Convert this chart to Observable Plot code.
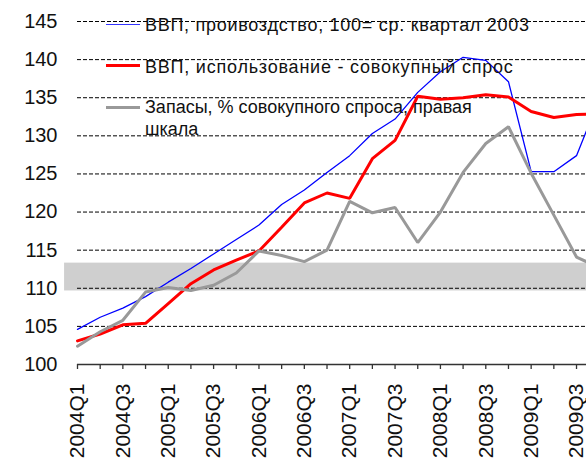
<!DOCTYPE html>
<html>
<head>
<meta charset="utf-8">
<script src="https://cdn.jsdelivr.net/npm/d3@7"></script>
<script src="https://cdn.jsdelivr.net/npm/@observablehq/plot@0.6"></script>
<style>
  html, body { margin: 0; padding: 0; overflow: hidden; background: #fff; }
  #wrap { position: relative; width: 586px; height: 458px; font-family: "Liberation Sans", Arial, sans-serif; color: #111; }
  .sw { position: absolute; left: 106px; width: 34px; }
  .lt { position: absolute; left: 145px; font-size: 18px; line-height: 22px; white-space: nowrap; }
</style>
</head>
<body>
<div id="wrap"></div>
<script>
const quarters = ["2004Q1","2004Q2","2004Q3","2004Q4","2005Q1","2005Q2","2005Q3","2005Q4",
  "2006Q1","2006Q2","2006Q3","2006Q4","2007Q1","2007Q2","2007Q3","2007Q4",
  "2008Q1","2008Q2","2008Q3","2008Q4","2009Q1","2009Q2","2009Q3","2009Q4"];
const gdpProduction = [104.6,106.2,107.4,108.9,110.8,112.6,114.5,116.4,118.3,121.0,122.9,125.2,
  127.4,130.3,132.2,135.7,138.4,140.3,139.9,137.1,125.3,125.3,127.4,134.8];
const gdpUsage = [103.1,104.0,105.2,105.4,108.0,110.6,112.4,113.7,114.9,118.0,121.2,122.5,
  121.8,127.0,129.4,135.2,134.8,135.0,135.4,135.1,133.2,132.4,132.8,132.9];
const inventories = [102.4,104.3,105.8,109.5,110.1,109.7,110.4,112.0,114.9,114.3,113.5,115.0,
  121.4,119.9,120.6,116.0,120.0,125.2,129.0,131.2,125.1,119.6,114.1,112.7];
const yTicks = [100,105,110,115,120,125,130,135,140,145];
const bandRange = [109.65, 113.3];
const seriesNames = ["ВВП, проивоздство, 100= ср. квартал 2003",
  "ВВП, использование - совокупный спрос",
  "Запасы, % совокупного спроса, правая шкала"];

const idx = quarters.map((q, i) => i);
const xMax = 22.44;

const chart = Plot.plot({
  width: 586,
  height: 458,
  marginLeft: 77,
  marginRight: 0,
  marginTop: 21,
  marginBottom: 94,
  style: {fontFamily: "Liberation Sans, Arial, sans-serif", fontSize: "18px", overflow: "hidden", color: "#111"},
  x: {type: "linear", domain: [0, xMax]},
  y: {domain: [100, 145]},
  marks: [
    Plot.rect([bandRange], {x1: -0.57, x2: xMax, y1: d => d[0], y2: d => d[1], fill: "#cfcfcf"}),
    Plot.ruleY(yTicks.slice(1), {stroke: "#000", strokeWidth: 1, strokeDasharray: "4,2"}),
    Plot.ruleY([100], {stroke: "#333", strokeWidth: 1.5}),
    Plot.axisY({ticks: yTicks, tickSize: 0, tickPadding: 20, fontSize: 20, fill: "#111"}),
    Plot.axisX({ticks: idx.filter(i => i <= 22), tickSize: 5, tickFormat: () => "", stroke: "#333", strokeWidth: 1.3}),
    Plot.axisX({ticks: idx.filter(i => i % 2 === 0 && i <= 22), tickSize: 0, tickPadding: 19,
      tickRotate: -90, tickFormat: i => quarters[i], fontSize: 21, fill: "#111"}),
    Plot.line(idx, {x: i => i, y: i => gdpProduction[i], stroke: "#0000ff", strokeWidth: 1.3, strokeLinejoin: "miter"}),
    Plot.line(idx, {x: i => i, y: i => gdpUsage[i], stroke: "#ff0000", strokeWidth: 3, strokeLinejoin: "miter"}),
    Plot.line(idx, {x: i => i, y: i => inventories[i], stroke: "#999999", strokeWidth: 3, strokeLinejoin: "miter"})
  ]
});

const wrap = document.getElementById("wrap");
wrap.appendChild(chart);

const legend = [
  {name: seriesNames[0], color: "#3333ff", w: 1.5, lineY: 24.3, textTop: 14, ls: 0.72},
  {name: seriesNames[1], color: "#ff0000", w: 3, lineY: 65.3, textTop: 55.5, ls: 0.78},
  {name: seriesNames[2], color: "#999999", w: 3, lineY: 107.3, textTop: 96, ls: 0}
];
legend.forEach(it => {
  const sw = document.createElement("div");
  sw.className = "sw";
  sw.style.top = (it.lineY - it.w / 2) + "px";
  sw.style.height = it.w + "px";
  sw.style.background = it.color;
  wrap.appendChild(sw);
  const t = document.createElement("div");
  t.className = "lt";
  t.style.top = it.textTop + "px";
  t.style.letterSpacing = it.ls + "px";
  const parts = it.name === seriesNames[2] ? ["Запасы, % совокупного спроса, правая", "шкала"] : [it.name];
  parts.forEach((p, k) => {
    if (k) t.appendChild(document.createElement("br"));
    t.appendChild(document.createTextNode(p));
  });
  wrap.appendChild(t);
});
</script>
</body>
</html>
